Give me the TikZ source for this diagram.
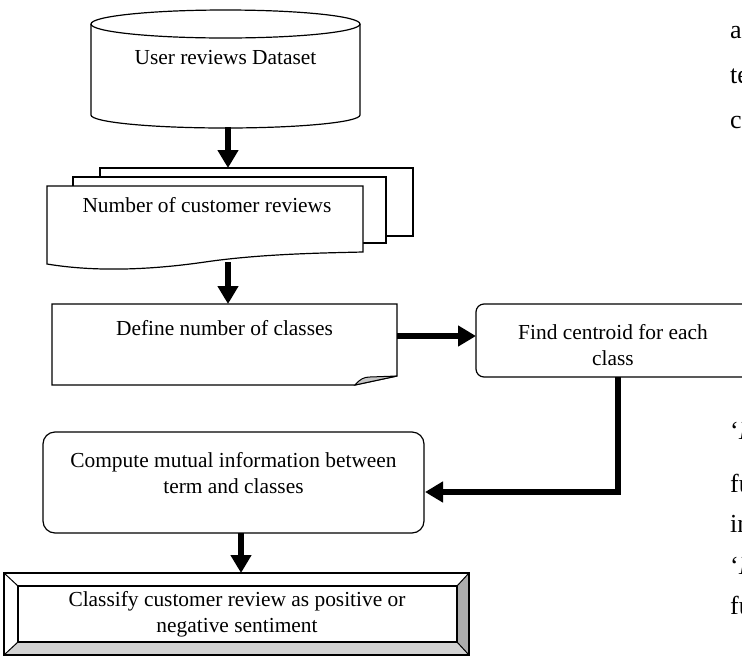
\documentclass[tikz,border=0pt]{standalone}
\usepackage{fontspec}
\setmainfont{Liberation Serif}
\usetikzlibrary{arrows.meta}
\tikzset{
  shp/.style={draw=black, line width=1.2pt, fill=white, line join=miter},
  flow/.style={line width=6pt, line join=miter, -{Triangle[width=20pt,length=18pt]}},
  txt/.style={font=\fontsize{21.4}{26}\selectfont, align=center, inner sep=0pt},
  side/.style={font=\fontsize{26}{30}\selectfont, anchor=mid west, inner sep=0pt}
}
\begin{document}
\begin{tikzpicture}[x=1pt,y=-1pt]
\clip (0,0) rectangle (742,665);
\fill[white] (0,0) rectangle (742,665);
% cylinder
\draw[shp] (91,24) -- (91,115) arc[start angle=180,end angle=360,x radius=134.5pt,y radius=13pt] -- (360,24);
\draw[shp] (225.5,24) ellipse[x radius=134.5pt,y radius=14pt];
\node[txt] (db) at (225.5,58) {User reviews Dataset};
% multi document
\draw[shp] (100,168) rectangle (413,236);
\draw[shp] (73,177) rectangle (386,243);
\draw[shp] (47,186) -- (363,186) -- (363,252) .. controls (320,253) and (260,254) .. (205,262) .. controls (150,270) and (95,272) .. (47,264) -- cycle;
\node[txt] (docs) at (207,205) {Number of customer reviews};
% define box with folded corner
\draw[shp] (52,304) -- (397,304) -- (397,376) -- (355,385) -- (52,385) -- cycle;
\draw[line width=1pt, fill=gray!45] (355,385) .. controls (360,379) and (364,377) .. (370,377) -- (397,376) -- cycle;
\node[txt] (def) at (224.5,328) {Define number of classes};
% find centroid
\draw[shp, rounded corners=8pt] (476,304) rectangle (752,377);
\node[txt] (find) at (613,345) {Find centroid for each\\class};
% compute
\draw[shp, rounded corners=12pt] (43,432) rectangle (424,533);
\node[txt] (comp) at (233.5,473.5) {Compute mutual information between\\term and classes};
% classify bevel
\fill[white] (4,573) rectangle (469,655);
\fill[gray!65] (469,573) -- (457,586) -- (457,642) -- (469,655) -- cycle;
\fill[gray!35] (4,655) -- (18,642) -- (457,642) -- (469,655) -- cycle;
\draw[line width=1.6pt] (4,573) rectangle (469,655);
\draw[line width=1.6pt] (18,586) rectangle (457,642);
\draw[line width=1pt] (4,573) -- (18,586) (469,573) -- (457,586) (4,655) -- (18,642) (469,655) -- (457,642);
\node[txt] (cls) at (237,614) {Classify customer review as positive or\\negative sentiment};
% connector end points
\coordinate (dbout) at (228,127);
\coordinate (docin) at (228,168);
\coordinate (docout) at (228,262);
\coordinate (defin) at (228,304);
\coordinate (defout) at (397,336);
\coordinate (findin) at (476,336);
\coordinate (findout) at (618,377);
\coordinate (compin) at (425,492);
\coordinate (compout) at (241,533);
\coordinate (clsin) at (241,573);
\draw[flow] (dbout) -- (docin);
\draw[flow] (docout) -- (defin);
\draw[flow] (defout) -- (findin);
\draw[flow] (findout) |- (compin);
\draw[flow] (compout) -- (clsin);
% side text fragments
\node[side] (s1) at (730,36) {a};
\node[side] (s2) at (730,81) {te};
\node[side] (s3) at (730,126) {c};
\node[side] (s4) at (730,437) {‘\textit{I}};
\node[side] (s5) at (730,490) {fu};
\node[side] (s6) at (730,530) {in};
\node[side] (s7) at (730,572) {‘\textit{I}};
\node[side] (s8) at (730,612) {fu};
\end{tikzpicture}
\end{document}
